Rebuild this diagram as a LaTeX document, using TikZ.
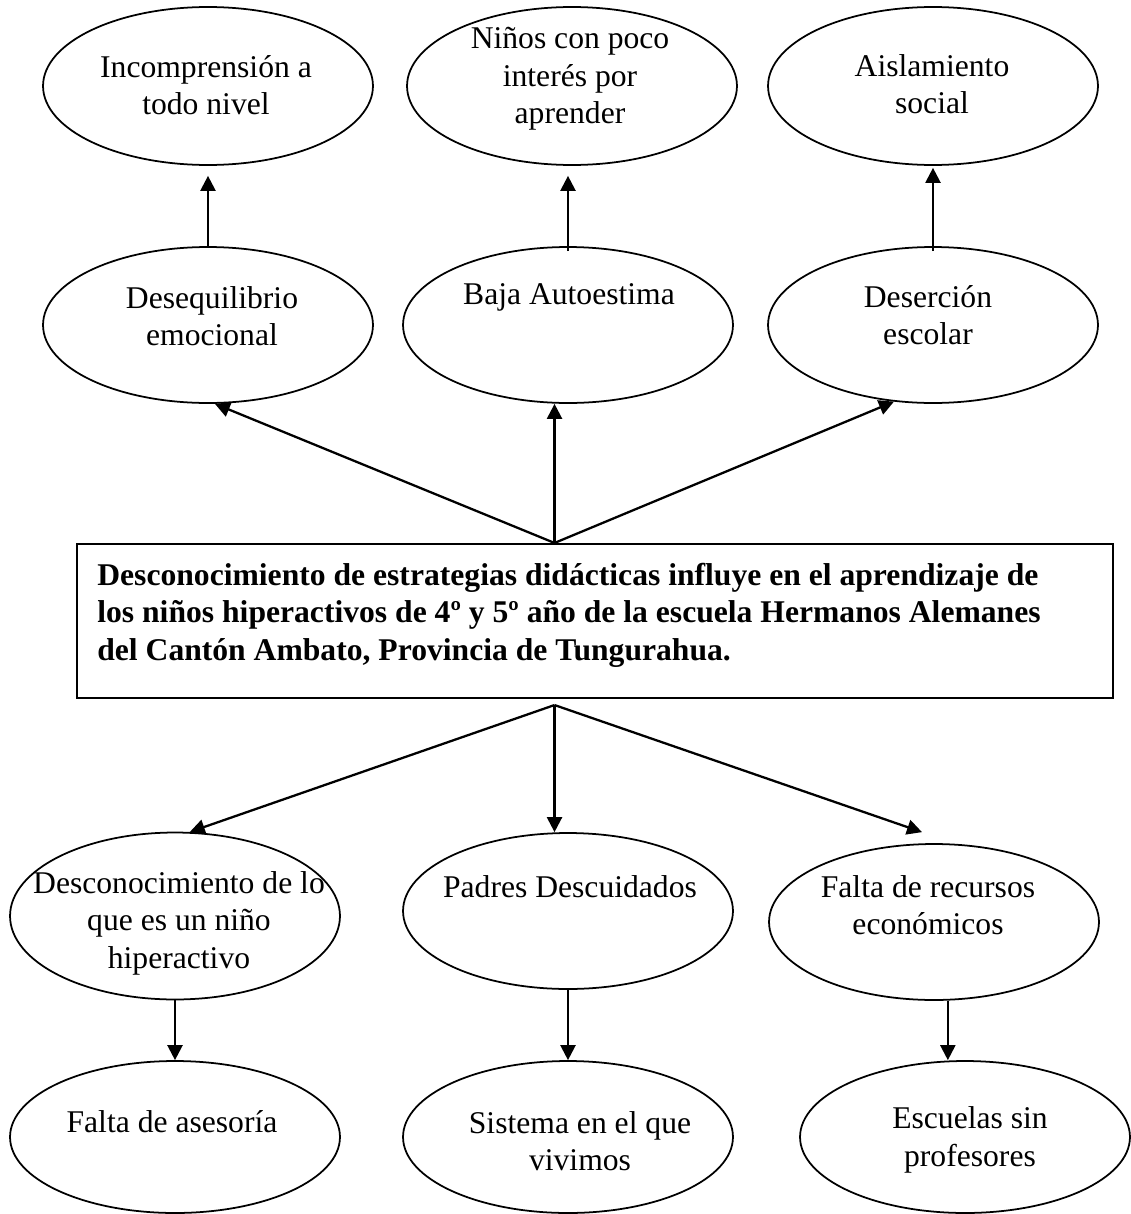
\documentclass[tikz,border=0pt]{standalone}
\usepackage{fontspec}
\setmainfont{Liberation Serif}
\usetikzlibrary{shapes.geometric,arrows.meta,calc}

\begin{document}
\begin{tikzpicture}[x=0.02cm, y=-0.02cm]
\tikzset{elip/.style={draw, ellipse, line width=1pt, minimum width=6.6cm, inner sep=0pt}}
\tikzset{txt/.style={align=center, inner sep=0pt, font=\fontsize{18}{21.3}\selectfont}}
\tikzset{arr/.style={line width=1.3pt, -{Triangle[length=0.3cm, width=0.3cm]}}}
\useasboundingbox (0,0) rectangle (1130,1214);
\node[elip, minimum height=3.16cm] (inc) at (208,86) {};
\node[elip, minimum height=3.16cm] (nin) at (572,86) {};
\node[elip, minimum height=3.16cm] (ais) at (933,86) {};
\node[elip, minimum height=3.12cm] (deq) at (208,325) {};
\node[elip, minimum height=3.12cm] (baj) at (568,325) {};
\node[elip, minimum height=3.12cm] (des) at (933,325) {};
\node[draw, line width=1.2pt, minimum width=20.72cm, minimum height=3.08cm, inner sep=0pt] (box) at (595,621) {};
\node[elip, minimum height=3.34cm] (dsc) at (175,916) {};
\node[elip, minimum height=3.12cm] (pad) at (568,911) {};
\node[elip, minimum height=3.12cm] (fal) at (934,922) {};
\node[elip, minimum height=3.04cm] (ase) at (175,1137) {};
\node[elip, minimum height=3.04cm] (sis) at (568,1137) {};
\node[elip, minimum height=3.04cm] (esc) at (965,1137) {};
\node[txt] (inc-t) at (206,85) {Incomprensión a\\todo nivel};
\node[txt] (nin-t) at (570,79) {Niños con poco\\interés por\\aprender};
\node[txt] (ais-t) at (932,84) {Aislamiento\\social};
\node[txt] (deq-t) at (212,316) {Desequilibrio\\emocional};
\node[txt] (baj-t) at (569,297) {Baja Autoestima};
\node[txt] (des-t) at (928,315) {Deserción\\escolar};
\node[txt, align=left, anchor=west, font=\fontsize{18}{21.3}\selectfont\bfseries] (box-t) at (97,615)
  {Desconocimiento de estrategias didácticas influye en el aprendizaje de\\
   los niños hiperactivos de 4º y 5º año de la escuela Hermanos Alemanes\\
   del Cantón Ambato, Provincia de Tungurahua.};
\node[txt] (dsc-t) at (179,923) {Desconocimiento de lo\\que es un niño\\hiperactivo};
\node[txt] (pad-t) at (570,887) {Padres Descuidados};
\node[txt] (fal-t) at (928,905) {Falta de recursos\\económicos};
\node[txt] (ase-t) at (172,1122) {Falta de asesoría};
\node[txt] (sis-t) at (580,1141) {Sistema en el que\\vivimos};
\node[txt] (esc-t) at (970,1140) {Escuelas sin\\profesores};
\coordinate (hubA) at ($(box.north west)!0.461!(box.north east)$);
\coordinate (hubB) at ($(box.south west)!0.461!(box.south east)+(0,6)$);
\draw[arr, shorten >=0.2cm] (deq) -- (inc);
\draw[arr, shorten >=0.2cm, shorten <=-0.1cm] (baj.north) -- (baj.north |- nin.south);
\draw[arr, shorten >=0.04cm, shorten <=-0.1cm] (des) -- (ais);
\draw[arr] (hubA) -- (deq.-85);
\draw[arr] (hubA) -- (hubA |- baj.south);
\draw[arr] (hubA) -- (des.-117);
\draw[arr] (hubB) -- (dsc.80);
\draw[arr] (hubB) -- (hubB |- pad.north);
\draw[arr] (hubB) -- ($(fal.north)+(-12,-11)$);
\draw[arr] (dsc) -- (ase);
\draw[arr] (pad) -- (sis);
\draw[arr] (fal.-80) -- (fal.-80 |- esc.north);
\end{tikzpicture}
\end{document}
